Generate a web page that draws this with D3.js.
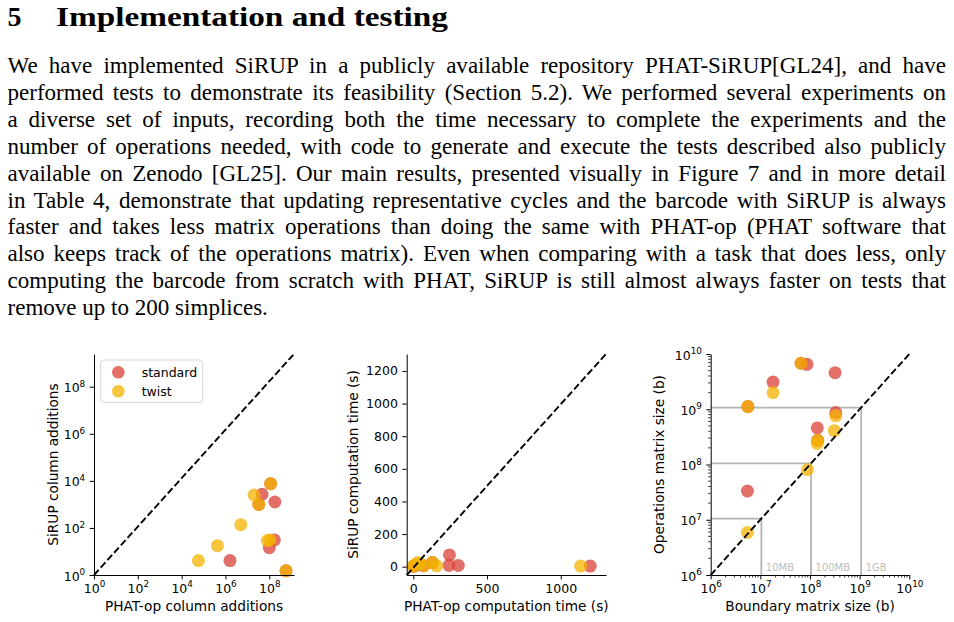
<!DOCTYPE html>
<html>
<head>
<meta charset="utf-8">
<script src="https://cdn.jsdelivr.net/npm/d3@7"></script>
<style>
  body { margin: 0; background: #fff; }
  svg { display: block; }
</style>
</head>
<body>
<svg id="page" width="954" height="622"></svg>
<script>
// ---- text ----
const headingNum = "5";
const headingText = "Implementation and testing";
const bodyLines = [
  "We have implemented SiRUP in a publicly available repository PHAT-SiRUP[GL24], and have",
  "performed tests to demonstrate its feasibility (Section 5.2). We performed several experiments on",
  "a diverse set of inputs, recording both the time necessary to complete the experiments and the",
  "number of operations needed, with code to generate and execute the tests described also publicly",
  "available on Zenodo [GL25]. Our main results, presented visually in Figure 7 and in more detail",
  "in Table 4, demonstrate that updating representative cycles and the barcode with SiRUP is always",
  "faster and takes less matrix operations than doing the same with PHAT-op (PHAT software that",
  "also keeps track of the operations matrix). Even when comparing with a task that does less, only",
  "computing the barcode from scratch with PHAT, SiRUP is still almost always faster on tests that",
  "remove up to 200 simplices."
];

// ---- panel 1: column additions [PHAT-op, SiRUP] ----
const addStandard = [[1.6e6, 4.1], [4.7e7, 2700], [3.3e7, 1000], [1.15e8, 7600], [1.8e8, 1260], [1.7e8, 31], [1.0e8, 14.5], [5.8e8, 1.5]];
const addTwist = [[5.8e4, 4.1], [4.3e5, 17.6], [5.0e6, 138], [2.0e7, 2500], [3.3e7, 1000], [1.15e8, 7600], [8.1e7, 29], [1.07e8, 31], [5.8e8, 1.5]];
const addTicks = [1, 1e2, 1e4, 1e6, 1e8];

// ---- panel 2: computation time (s) [PHAT-op, SiRUP] ----
const timeStandard = [[2, 3], [15, 8], [70, 6], [130, 25], [245, 72], [242, 8], [305, 8], [1200, 4]];
const timeTwist = [[0, 2], [8, 10], [30, 25], [45, 20], [70, 6], [130, 25], [158, 5], [1135, 4]];
const timeXTicks = [0, 500, 1000];
const timeYTicks = [0, 200, 400, 600, 800, 1000, 1200];

// ---- panel 3: matrix sizes (b) [boundary, operations] ----
const sizeStandard = [[6.6e7, 6.8e9], [8.7e7, 6.5e9], [3.2e8, 4.6e9], [1.8e7, 3.1e9], [5.6e6, 1.12e9], [3.3e8, 8.7e8], [1.4e8, 4.6e8], [1.43e8, 2.75e8], [5.5e6, 3.3e7]];
const sizeTwist = [[6.6e7, 6.8e9], [1.8e7, 2.0e9], [5.6e6, 1.12e9], [3.3e8, 7.6e8], [3.1e8, 4.1e8], [1.43e8, 2.75e8], [1.4e8, 2.4e8], [8.9e7, 8.1e7], [5.5e6, 5.9e6]];
const sizeTicks = [1e6, 1e7, 1e8, 1e9, 1e10];
const sizeMarks = [10485760, 104857600, 1073741824];
const sizeMarkLabels = ["10MB", "100MB", "1GB"];

const seriesNames = ["standard", "twist"];
const seriesColors = ["#d84036", "#f4b300"];

const svg = d3.select("#page");
const serif = "'Liberation Serif', 'Times New Roman', serif";
const sans = "'DejaVu Sans', sans-serif";

// heading (stretched a little, like the wide bold TeX face)
svg.append("text").attr("x", 7.5).attr("y", 26)
  .style("font-family", serif).style("font-weight", "bold").style("font-size", "28px")
  .text(headingNum);
const head = svg.append("text")
  .style("font-family", serif).style("font-weight", "bold").style("font-size", "28px")
  .text(headingText);
const headScale = 392 / head.node().getComputedTextLength();
head.attr("transform", `translate(56,26) scale(${headScale},1)`);

// justified body text
const left = 7.5, right = 946, firstBase = 73, lineGap = 26.9, stretch = 1.024;
bodyLines.forEach((line, i) => {
  const t = svg.append("text")
    .attr("transform", `translate(${left},${firstBase + i * lineGap}) scale(${stretch},1)`)
    .style("font-family", serif).style("font-size", "22.5px")
    .text(line);
  if (i < bodyLines.length - 1) {
    const natural = t.node().getComputedTextLength();
    const spaces = line.split(" ").length - 1;
    t.attr("word-spacing", ((right - left) / stretch - natural) / spaces);
  }
});

// helpers
function powLabel(sel) {
  sel.each(function(d) {
    const t = d3.select(this);
    const e = Math.round(Math.log10(d));
    t.text(null);
    t.append("tspan").text("10");
    t.append("tspan").attr("dy", -5.5).style("font-size", "8.8px").text(e);
  });
}

function styleAxis(g) {
  g.select(".domain").attr("stroke", "#000").attr("stroke-width", 1);
  g.selectAll(".tick line").attr("stroke", "#000").attr("stroke-width", 1);
  g.selectAll(".tick text").style("font-family", sans).style("font-size", "12.5px").attr("fill", "#000");
}

function drawPanel(opt) {
  const g = svg.append("g");
  const x = opt.x, y = opt.y;
  const [x0, x1] = x.range(), [y0, y1] = y.range();

  if (opt.under) opt.under(g, x, y);

  // points: standard first, twist on top
  [opt.standard, opt.twist].forEach((pts, k) => {
    g.append("g").selectAll("circle")
      .data(pts)
      .join("circle")
      .attr("cx", d => x(d[0]))
      .attr("cy", d => y(d[1]))
      .attr("r", 6.5)
      .attr("fill", seriesColors[k])
      .attr("fill-opacity", 0.75);
  });

  // y = x reference
  g.append("line")
    .attr("x1", x0).attr("y1", y0).attr("x2", x1).attr("y2", y1)
    .attr("stroke", "#000").attr("stroke-width", 1.9)
    .attr("stroke-dasharray", "7,3");

  // minor ticks
  if (opt.minor) {
    const isMajor = v => Math.abs(Math.log10(v) - Math.round(Math.log10(v))) < 1e-6;
    g.append("g").selectAll("line").data(x.ticks().filter(v => !isMajor(v)))
      .join("line")
      .attr("x1", d => x(d)).attr("x2", d => x(d)).attr("y1", y0).attr("y2", y0 + 2.5)
      .attr("stroke", "#000").attr("stroke-width", 0.8);
    g.append("g").selectAll("line").data(y.ticks().filter(v => !isMajor(v)))
      .join("line")
      .attr("y1", d => y(d)).attr("y2", d => y(d)).attr("x1", x0).attr("x2", x0 - 2.5)
      .attr("stroke", "#000").attr("stroke-width", 0.8);
  }

  const fmt = opt.log ? null : d3.format("d");
  const xa = g.append("g").attr("transform", `translate(0,${y0})`)
    .call(d3.axisBottom(x).tickValues(opt.xTicks).tickFormat(fmt).tickSize(4.4).tickSizeOuter(0).tickPadding(4.4))
    .call(styleAxis);
  const ya = g.append("g").attr("transform", `translate(${x0},0)`)
    .call(d3.axisLeft(y).tickValues(opt.yTicks).tickFormat(fmt).tickSize(4.4).tickSizeOuter(0).tickPadding(4.4))
    .call(styleAxis);
  if (opt.log) {
    xa.selectAll(".tick text").call(powLabel);
    ya.selectAll(".tick text").call(powLabel).attr("dy", "0.4em");
  }

  g.append("text")
    .attr("x", (x0 + x1) / 2).attr("y", 611)
    .attr("text-anchor", "middle")
    .style("font-family", sans).style("font-size", "13.7px")
    .text(opt.xLabel);
  g.append("text")
    .attr("transform", `translate(${opt.yLabelX},${(y0 + y1) / 2}) rotate(-90)`)
    .attr("text-anchor", "middle")
    .style("font-family", sans).style("font-size", "13.7px")
    .text(opt.yLabel);
  return g;
}

// panel 1
const p1 = drawPanel({
  x: d3.scaleLog().domain([1, 1.34e9]).range([94, 294]),
  y: d3.scaleLog().domain([1, 2.45e9]).range([575, 354]),
  standard: addStandard, twist: addTwist,
  xTicks: addTicks, yTicks: addTicks, log: true,
  xLabel: "PHAT-op column additions", yLabel: "SiRUP column additions", yLabelX: 58
});

// legend
const lg = p1.append("g");
lg.append("rect").attr("x", 100.7).attr("y", 360).attr("width", 102).attr("height", 42.3)
  .attr("rx", 3).attr("fill", "#fff").attr("fill-opacity", 0.8)
  .attr("stroke", "#d5d5d5").attr("stroke-width", 1);
seriesNames.forEach((name, k) => {
  lg.append("circle").attr("cx", 118.3).attr("cy", 372.3 + k * 19)
    .attr("r", 6.3).attr("fill", seriesColors[k]).attr("fill-opacity", 0.75);
  lg.append("text").attr("x", 141.7).attr("y", 376.6 + k * 19)
    .style("font-family", sans).style("font-size", "12.5px").text(name);
});

// panel 2
drawPanel({
  x: d3.scaleLinear().domain([-45, 1307]).range([406.7, 606]),
  y: d3.scaleLinear().domain([-51, 1304]).range([575, 354]),
  standard: timeStandard, twist: timeTwist,
  xTicks: timeXTicks, yTicks: timeYTicks, log: false,
  xLabel: "PHAT-op computation time (s)", yLabel: "SiRUP computation time (s)", yLabelX: 358
});

// panel 3
drawPanel({
  x: d3.scaleLog().domain([1e6, 1e10]).range([710.7, 909.3]),
  y: d3.scaleLog().domain([1e6, 1e10]).range([575, 354]),
  standard: sizeStandard, twist: sizeTwist,
  xTicks: sizeTicks, yTicks: sizeTicks, log: true, minor: true,
  xLabel: "Boundary matrix size (b)", yLabel: "Operations matrix size (b)", yLabelX: 664,
  under: (g, x, y) => {
    const [x0] = x.range(), [y0] = y.range();
    g.append("g").selectAll("path").data(sizeMarks)
      .join("path")
      .attr("d", d => `M${x0},${y(d)}H${x(d)}V${y0}`)
      .attr("fill", "none").attr("stroke", "#b4b4b4").attr("stroke-width", 1.8);
    g.append("g").selectAll("text").data(sizeMarks)
      .join("text")
      .attr("x", d => x(d) + 4.5).attr("y", y0 - 4.5)
      .style("font-family", sans).style("font-size", "10px")
      .attr("fill", "#bdbdbd")
      .text((d, i) => sizeMarkLabels[i]);
  }
});
</script>
</body>
</html>
